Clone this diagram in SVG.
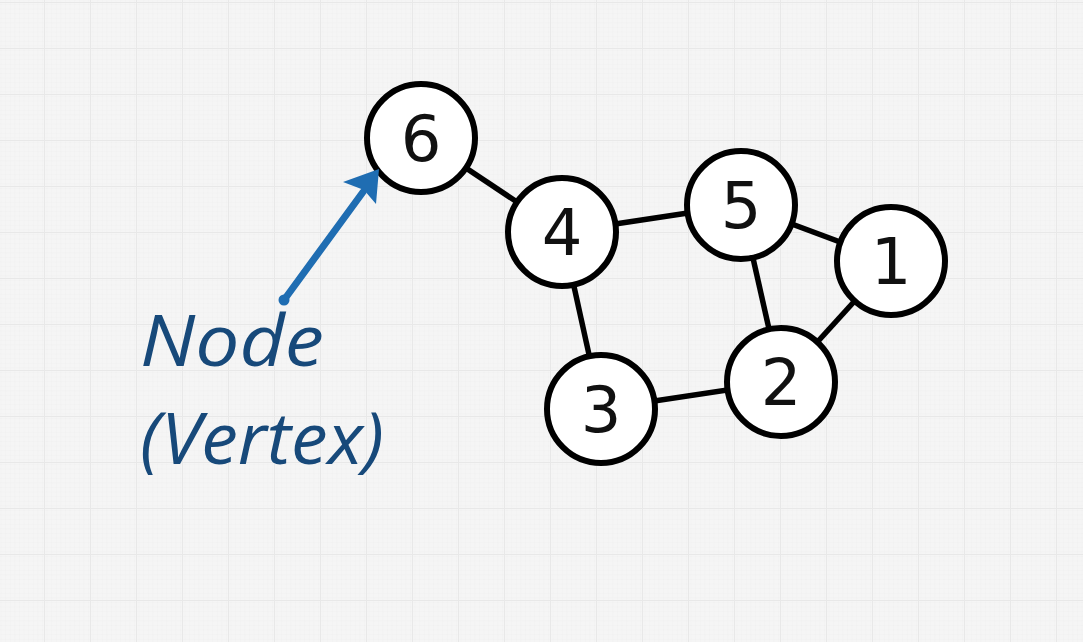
<svg xmlns="http://www.w3.org/2000/svg" width="1083" height="642" viewBox="0 0 1083 642">
<defs>
<pattern id="minor" x="-2" y="2" width="4.6" height="4.6" patternUnits="userSpaceOnUse">
<path d="M0 0H4.6M0 0V4.6" fill="none" stroke="#ececec" stroke-width="0.6"/>
</pattern>
<pattern id="major" x="-2" y="2" width="46" height="46" patternUnits="userSpaceOnUse">
<rect width="46" height="46" fill="url(#minor)"/>
<path d="M0 0H46M0 0V46" fill="none" stroke="#e8e8e8" stroke-width="2"/>
</pattern>
<style>
.node circle{fill:#fff;stroke:#000;stroke-width:6}
.node text{font-family:"DejaVu Sans",sans-serif;font-size:64px;fill:#111;text-anchor:middle}
.edge{stroke:#000;stroke-width:5.5;fill:none}
.label{font-family:"Open Sans",sans-serif;font-style:italic;font-size:72px;fill:#17497a}
</style>
</defs>
<rect width="1083" height="642" fill="#f5f5f5"/>
<rect width="1083" height="642" fill="url(#major)"/>
<g id="connectors">
<line class="edge" x1="421" y1="138" x2="562" y2="232"/>
<line class="edge" x1="562" y1="232" x2="741" y2="205"/>
<line class="edge" x1="741" y1="205" x2="891" y2="261"/>
<line class="edge" x1="741" y1="205" x2="781" y2="382"/>
<line class="edge" x1="891" y1="261" x2="781" y2="382"/>
<line class="edge" x1="562" y1="232" x2="601" y2="409"/>
<line class="edge" x1="601" y1="409" x2="781" y2="382"/>
</g>
<g id="node6" class="node"><circle cx="421" cy="138" r="54"/><text x="421" y="161">6</text></g>
<g id="node4" class="node"><circle cx="562" cy="232" r="54"/><text x="562" y="255">4</text></g>
<g id="node5" class="node"><circle cx="741" cy="205" r="54"/><text x="741" y="228">5</text></g>
<g id="node1" class="node"><circle cx="891" cy="261" r="54"/><text x="891" y="284">1</text></g>
<g id="node2" class="node"><circle cx="781" cy="382" r="54"/><text x="781" y="405">2</text></g>
<g id="node3" class="node"><circle cx="601" cy="409" r="54"/><text x="601" y="432">3</text></g>
<g id="annotation">
<line x1="284" y1="300" x2="363" y2="192" stroke="#1f6db2" stroke-width="7" stroke-linecap="round"/>
<circle cx="284" cy="300" r="5.5" fill="#1f6db2"/>
<polygon points="343,182 379,169 376,204 364,190" fill="#1f6db2"/>
<text class="label" transform="translate(140,366) scale(1.09,1)">Node</text>
<text class="label" transform="translate(140,464) scale(1.02,1)">(Vertex)</text>
</g>
</svg>
